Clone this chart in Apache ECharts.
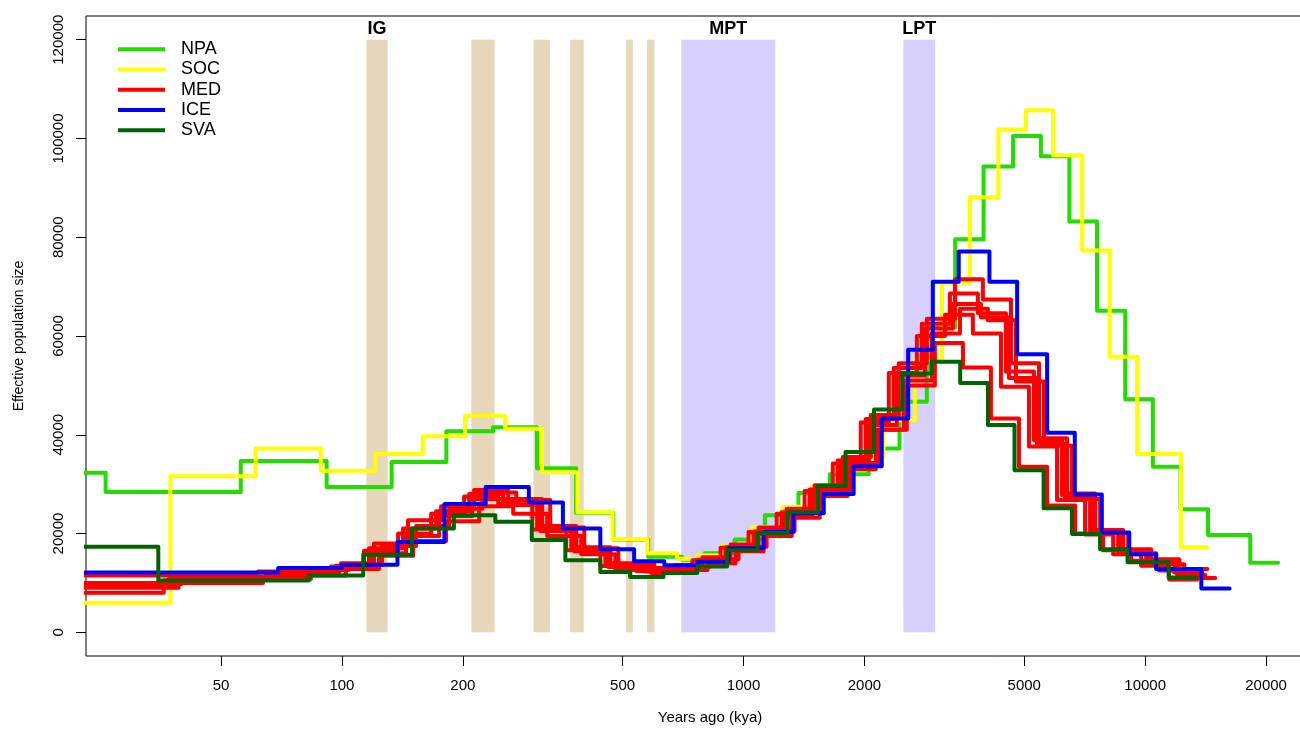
<!DOCTYPE html>
<html>
<head>
<meta charset="utf-8">
<title>PSMC effective population size</title>
<script src="https://cdn.jsdelivr.net/npm/echarts@6.0.0/dist/echarts.min.js"></script>
<style>
  html, body { margin: 0; padding: 0; background: #fff; }
  #main { width: 1300px; height: 732px; }
</style>
</head>
<body>
<div id="main"></div>
<script>
// step curves: times (years) are the break points, Ne holds between times[i] and times[i+1]
var npaTimes = [22, 25.8, 56, 91.6, 133, 182, 238, 306, 383, 474, 579, 703, 800, 950, 1130, 1370, 1640, 2050, 2445, 2860, 3365, 3960, 4690, 5500, 6475, 7590, 8920, 10450, 12250, 14340, 18270, 21420];
var npaNe = [32300, 28400, 34700, 29400, 34500, 40700, 41500, 33200, 24200, 18800, 15300, 14700, 16000, 18800, 23700, 28200, 32000, 37200, 46700, 61700, 79600, 94300, 100500, 96400, 83200, 65100, 47200, 33500, 24900, 19700, 14100];

var socTimes = [22, 37.4, 61.0, 88.6, 121.3, 159, 202.6, 255, 315, 386, 472, 576, 683, 767, 880, 1050, 1250, 1480, 1850, 2230, 2670, 3120, 3660, 4310, 5050, 5900, 6970, 8160, 9550, 12270, 14260];
var socNe = [6000, 31600, 37200, 32700, 36100, 39700, 43800, 41200, 32400, 24300, 18900, 16000, 14900, 15600, 17500, 21300, 25400, 29500, 35500, 42900, 55100, 70800, 88100, 101800, 105700, 96600, 77300, 55800, 36100, 17200];

// MED: several individuals
var medATimes = [22, 38.1, 61.8, 81.3, 99.4, 120.2, 146.1, 176.6, 213.4, 259.5, 315.3, 383.3, 466.0, 572.9, 672.9, 790.2, 928.2, 1090, 1280, 1503, 1766, 2074, 2435, 2861, 3360, 3944, 4633, 5441, 6391, 7505, 8814, 10350, 12160, 14280];
var medANe = [11500, 11800, 12300, 12800, 14000, 18000, 22700, 25500, 28800, 27000, 21500, 17200, 14000, 13000, 13600, 15200, 17800, 21200, 25000, 29800, 35500, 44000, 54500, 63500, 71500, 67400, 54500, 39300, 28100, 20700, 16800, 14800, 12800];

var medBTimes = [22, 37.0, 60.0, 79.0, 96.6, 116.8, 142.0, 171.6, 207.4, 252.1, 306.3, 372.4, 452.8, 556.7, 653.8, 767.9, 901.9, 1059, 1244, 1460, 1716, 2015, 2366, 2780, 3265, 3833, 4502, 5286, 6209, 7292, 8565, 10056, 11813, 13874];
var medBNe = [10000, 10800, 11300, 12300, 13500, 17000, 21000, 24500, 28000, 26500, 21000, 16800, 13600, 12600, 13200, 14700, 17200, 20400, 24300, 28900, 34800, 43200, 53500, 62500, 68600, 64600, 52800, 38900, 27800, 20500, 16400, 14300, 12100];

var medCTimes = [22, 37.7, 61.1, 80.4, 98.3, 118.8, 144.4, 174.6, 211.0, 256.5, 311.7, 378.9, 460.6, 566.3, 665.2, 781.2, 917.6, 1078, 1266, 1486, 1746, 2050, 2408, 2828, 3321, 3899, 4580, 5378, 6317, 7419, 8713, 10231, 12018, 14115];
var medCNe = [9500, 10300, 11000, 12000, 13000, 16000, 19500, 23500, 27000, 25800, 20500, 16400, 13200, 12300, 12900, 14300, 16800, 19900, 23700, 28200, 33800, 42000, 52000, 61500, 66500, 63800, 51500, 38200, 27300, 20200, 16200, 14000, 11600];

var medDTimes = [22, 39.2, 63.6, 83.7, 102.3, 123.7, 150.4, 181.7, 219.7, 267.0, 324.5, 394.5, 479.6, 589.6, 692.5, 813.3, 955.3, 1122, 1318, 1547, 1817, 2134, 2506, 2944, 3458, 4059, 4768, 5599, 6577, 7724, 9071, 10651, 12512, 14695];
var medDNe = [9000, 10000, 10800, 11500, 12800, 15500, 18500, 22500, 25500, 24000, 19500, 15800, 12600, 12000, 12600, 14000, 16400, 19500, 23200, 27600, 33000, 41000, 51000, 60500, 65500, 63200, 50800, 37800, 27000, 20000, 16000, 13800, 11000];

var medETimes = [22, 36.0, 58.3, 76.8, 93.9, 113.5, 138.0, 166.8, 201.5, 245.0, 297.7, 361.9, 440.0, 541.0, 635.3, 746.2, 876.5, 1029, 1209, 1419, 1668, 1958, 2300, 2701, 3173, 3724, 4375, 5137, 6034, 7086, 8323, 9772, 11480, 13482];
var medENe = [8000, 10500, 11200, 12200, 13300, 16500, 20000, 24000, 27500, 26000, 20800, 16600, 13400, 12400, 13000, 14600, 17100, 20300, 24000, 28600, 34200, 42500, 52500, 60000, 64300, 60500, 49700, 37600, 26800, 19800, 15800, 13500, 10700];

var medFTimes = [22, 39.9, 64.7, 85.1, 104.1, 125.9, 153.0, 184.9, 223.5, 271.7, 330.1, 401.3, 487.9, 599.8, 704.5, 827.4, 971.8, 1141, 1340, 1574, 1849, 2171, 2550, 2995, 3518, 4130, 4851, 5696, 6691, 7857, 9228, 10836, 12729, 14949];
var medFNe = [9800, 11000, 11600, 12600, 13700, 17500, 21500, 25000, 28300, 26800, 21200, 17000, 13800, 12700, 13300, 14800, 17300, 20500, 24200, 28800, 34300, 41000, 50000, 58600, 53600, 43300, 33500, 25700, 20000, 16600, 14500, 12500, 11000];

var iceTimes = [22, 69.4, 100, 137.5, 180, 228, 292, 355, 440, 534, 635, 767, 918, 1122, 1331, 1584, 1880, 2209, 2570, 2960, 3434, 4095, 4800, 5700, 6680, 7800, 9130, 10650, 13800, 16230];
var iceNe = [12100, 13000, 13700, 18300, 26000, 29400, 26300, 21000, 16800, 14400, 13600, 14300, 17000, 20300, 24100, 28000, 33600, 43300, 57200, 71000, 77100, 71000, 56300, 40400, 27900, 20200, 15800, 12800, 8860];

var svaTimes = [22, 34.9, 82.7, 113, 149.5, 190, 241, 297, 360, 440, 522, 632, 767, 910, 1083, 1289, 1533, 1795, 2113, 2487, 2937, 3463, 4061, 4729, 5587, 6575, 7723, 9040, 11440, 13420];
var svaNe = [17300, 10500, 11500, 15700, 21000, 23700, 22400, 18700, 14600, 12200, 11200, 12000, 13300, 16600, 20100, 24300, 29600, 36500, 45100, 52400, 54800, 50500, 42000, 32800, 25100, 19900, 16800, 14200, 11100];

// shaded periods (years)
var bandStart = [115, 210, 300, 370, 510, 575, 700, 2500];
var bandEnd = [130, 240, 330, 400, 530, 600, 1200, 3000];
var bandLabel = ['IG', '', '', '', '', '', 'MPT', 'LPT'];
var bandKind = ['ig', 'ig', 'ig', 'ig', 'ig', 'ig', 'pt', 'pt'];

var xTickYears = [50, 100, 200, 500, 1000, 2000, 5000, 10000, 20000];
var yTicks = [0, 20000, 40000, 60000, 80000, 100000, 120000];

var FONT = '"Liberation Sans", Arial, Helvetica, sans-serif';
var lg = function (t) { return Math.log10(t); };

function stepData(times, ne) {
  return times.map(function (t, i) {
    return [lg(t), ne[Math.min(i, ne.length - 1)]];
  });
}

function curve(name, color, times, ne) {
  return {
    name: name,
    type: 'line',
    step: 'end',
    data: stepData(times, ne),
    symbol: 'none',
    showSymbol: false,
    color: color,
    lineStyle: { width: 4, color: color, cap: 'round', join: 'round' },
    emphasis: { disabled: true },
    z: 3
  };
}

var RED = '#ff0000';
var bandSeries = {
  type: 'line',
  data: [],
  silent: true,
  markArea: {
    silent: true,
    label: { show: true, position: 'top', distance: 2, formatter: '{b}', color: '#000', fontSize: 18, fontWeight: 'bold', fontFamily: FONT },
    data: bandStart.map(function (s, i) {
      return [
        { name: bandLabel[i], xAxis: lg(s), yAxis: 0, itemStyle: { color: bandKind[i] === 'ig' ? '#e7d8bb' : '#d7cffc' } },
        { xAxis: lg(bandEnd[i]), yAxis: 120000 }
      ];
    })
  }
};

var myChart = echarts.init(document.getElementById('main'), null, { renderer: 'canvas' });
myChart.setOption({
  animation: false,
  backgroundColor: '#fff',
  textStyle: { fontFamily: FONT },
  grid: {
    left: 86, top: 16, bottom: 76, width: 1248,
    outerBoundsMode: 'none', containLabel: false,
    show: true, borderColor: '#000', borderWidth: 1, backgroundColor: 'transparent'
  },
  legend: {
    data: ['NPA', 'SOC', 'MED', 'ICE', 'SVA'],
    orient: 'vertical',
    left: 113,
    top: 34,
    icon: 'rect',
    itemWidth: 47,
    itemHeight: 4,
    itemGap: 0,
    selectedMode: false,
    textStyle: { fontSize: 18, lineHeight: 20.3, color: '#000', fontFamily: FONT, padding: [0, 0, 0, 11] }
  },
  xAxis: {
    type: 'value',
    min: 1.3628,
    max: 4.4702,
    name: 'Years ago (kya)',
    nameLocation: 'middle',
    nameGap: 54,
    nameTextStyle: { fontSize: 15, color: '#000', fontFamily: FONT },
    axisLine: { show: false, onZero: false },
    splitLine: { show: false },
    axisTick: { show: true, length: 10, customValues: xTickYears.map(lg), lineStyle: { color: '#000' } },
    axisLabel: {
      customValues: xTickYears.map(lg),
      formatter: function (v) { return String(Math.round(Math.pow(10, v))); },
      fontSize: 15, color: '#000', margin: 22, fontFamily: FONT
    }
  },
  yAxis: {
    type: 'value',
    min: -4800,
    max: 124800,
    name: 'Effective population size',
    nameLocation: 'middle',
    nameGap: 60,
    nameTextStyle: { fontSize: 14, color: '#000', fontFamily: FONT },
    axisLine: { show: false, onZero: false },
    splitLine: { show: false },
    axisTick: { show: true, length: 10, customValues: yTicks, lineStyle: { color: '#000' } },
    axisLabel: {
      customValues: yTicks, rotate: 90, fontSize: 15, color: '#000', margin: 20, fontFamily: FONT,
      formatter: function (v) { return String(v); }
    }
  },
  series: [
    bandSeries,
    curve('NPA', '#22dd00', npaTimes, npaNe),
    curve('SOC', '#ffff00', socTimes, socNe),
    curve('MED', RED, medATimes, medANe),
    curve('MED', RED, medBTimes, medBNe),
    curve('MED', RED, medCTimes, medCNe),
    curve('MED', RED, medDTimes, medDNe),
    curve('MED', RED, medETimes, medENe),
    curve('MED', RED, medFTimes, medFNe),
    curve('ICE', '#0000ff', iceTimes, iceNe),
    curve('SVA', '#006400', svaTimes, svaNe)
  ]
});
</script>
</body>
</html>
